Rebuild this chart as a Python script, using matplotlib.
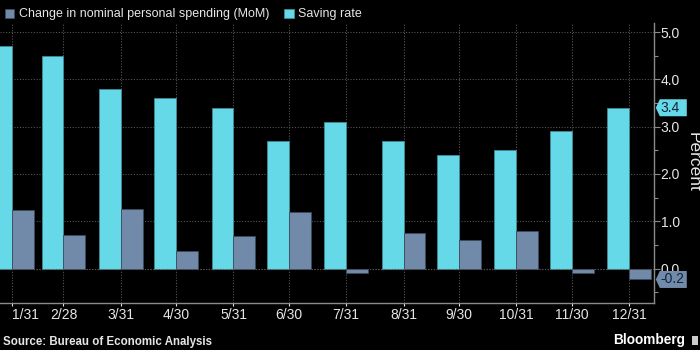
import matplotlib
matplotlib.use("Agg")
import matplotlib.pyplot as plt
import matplotlib.dates as mdates
from matplotlib.patches import Polygon, Rectangle
import matplotlib.transforms as mtrans
import datetime as dt

plt.rcParams['font.family'] = ['Liberation Sans', 'DejaVu Sans']

# ---- data ----
dates = ["2022-01-31", "2022-02-28", "2022-03-31", "2022-04-30", "2022-05-31", "2022-06-30",
         "2022-07-31", "2022-08-31", "2022-09-30", "2022-10-31", "2022-11-30", "2022-12-31"]
tick_labels = ["1/31", "2/28", "3/31", "4/30", "5/31", "6/30",
               "7/31", "8/31", "9/30", "10/31", "11/30", "12/31"]
spending = [1.24, 0.71, 1.25, 0.37, 0.68, 1.20, -0.10, 0.75, 0.61, 0.80, -0.10, -0.23]
saving = [4.7, 4.5, 3.8, 3.6, 3.4, 2.7, 3.1, 2.7, 2.4, 2.5, 2.9, 3.4]
spending_label = "Change in nominal personal spending (MoM)"
saving_label = "Saving rate"
y_ticks = [0.0, 1.0, 2.0, 3.0, 4.0, 5.0]

# ---- style ----
BG = "black"
C_SPEND = "#728AAA"
C_SAVE = "#66D9E8"
TXT = "#e6e6e6"
GRID = "#555555"
SPINE = "#8a8a8a"

d = [dt.datetime.strptime(s, "%Y-%m-%d") for s in dates]
x = mdates.date2num(d)

fig = plt.figure(figsize=(7, 3.5), dpi=100, facecolor=BG)
ax = fig.add_axes([0.0, 0.134, 0.934, 0.80])
ax.set_facecolor(BG)

w = 11.8
ax.bar(x, saving, width=-w, align='edge', color=C_SAVE, edgecolor="#3f8a96", linewidth=0.6,
       label=saving_label, zorder=3)
ax.bar(x, spending, width=w, align='edge', color=C_SPEND, edgecolor="#3c4a5e", linewidth=0.6,
       label=spending_label, zorder=3)

ax.set_xlim(x[0] - 6.33, x[-1] + 13.4)
ax.set_ylim(-0.73, 5.19)

ax.set_xticks(x)
ax.set_xticklabels(tick_labels)
ax.yaxis.tick_right()
ax.set_yticks(y_ticks)
ax.set_yticklabels([f"{v:.1f}" for v in y_ticks])
ax.set_yticks([-0.5, 0.5, 1.5, 2.5, 3.5, 4.5], minor=True)

ax.tick_params(axis='y', which='major', colors=SPINE, labelcolor=TXT, labelsize=10,
               length=4, width=0.8, pad=1, direction='out')
ax.tick_params(axis='y', which='minor', colors=SPINE, length=3, width=0.8, direction='out')
ax.tick_params(axis='x', colors=TXT, labelcolor=TXT, labelsize=10, length=2, width=0.8, pad=1.5)
ax.get_xticklabels()[0].set_horizontalalignment('left')

for side in ["top", "left"]:
    ax.spines[side].set_visible(False)
for side in ["right", "bottom"]:
    ax.spines[side].set_color(SPINE)
    ax.spines[side].set_linewidth(1.0)

ax.grid(True, which='major', color=GRID, linestyle=(0, (1, 1.5)), linewidth=0.8, zorder=0)
ax.axhline(0, color=GRID, linestyle=(0, (1, 1.5)), linewidth=0.8, zorder=4)

fig.text(693 / 700, 1 - 162 / 350, "Percent", color=TXT, fontsize=12.5, rotation=270,
         ha='center', va='center')

# value tags on the right
trans = mtrans.blended_transform_factory(ax.transAxes, ax.transData)
tag_w_ax = 31 / (0.934 * 700)
tip_ax = 4 / (0.934 * 700)
half_h = 8.5 / (0.80 * 350) * (5.19 + 0.73)
for val, col in [(saving[-1], C_SAVE), (spending[-1], C_SPEND)]:
    x0 = 1.0 + 2 / (0.934 * 700)
    poly = Polygon([(x0, val), (x0 + tip_ax, val + half_h), (x0 + tag_w_ax, val + half_h),
                    (x0 + tag_w_ax, val - half_h), (x0 + tip_ax, val - half_h)],
                   closed=True, transform=trans, facecolor=col, edgecolor='none',
                   clip_on=False, zorder=5)
    ax.add_patch(poly)
    ax.text(x0 + tip_ax + 1 / (0.934 * 700), val, f"{round(val, 1):.1f}",
            transform=trans, ha='left', va='center', fontsize=10, color="#10243a",
            clip_on=False, zorder=6)

# legend
leg = fig.legend(loc='upper left', bbox_to_anchor=(0.0, 0.99), ncol=2, frameon=False,
                 handles=[ax.containers[1], ax.containers[0]],
                 labels=[spending_label, saving_label],
                 fontsize=9, handlelength=0.75, handleheight=0.75, handletextpad=0.35,
                 columnspacing=1.2, borderaxespad=0.2, borderpad=0.2)
for t in leg.get_texts():
    t.set_color(TXT)

fig.text(3 / 700, 1 - 345 / 350, "Source: Bureau of Economic Analysis", color=TXT,
         fontsize=8.3, fontweight='bold', ha='left', va='baseline')
fig.text(685 / 700, 1 - 344 / 350, "Bloomberg", color="white", fontsize=9.8,
         fontweight='bold', ha='right', va='baseline')
fig.patches.append(Rectangle((692 / 700, 1 - 345 / 350), 6 / 700, 9 / 350,
                             transform=fig.transFigure, facecolor="#cccccc",
                             edgecolor='none'))

fig.savefig("out.png", dpi=100, facecolor=BG)
